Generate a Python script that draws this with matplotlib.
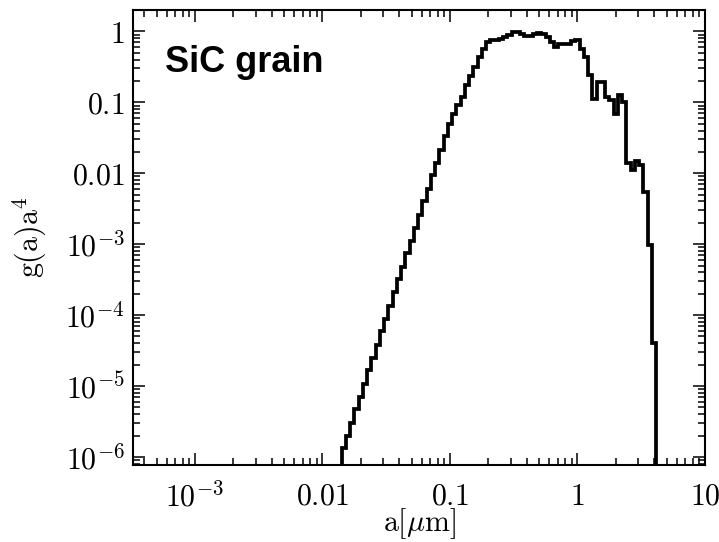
import matplotlib
matplotlib.use("Agg")
import matplotlib.pyplot as plt
from matplotlib.ticker import FixedLocator, FixedFormatter, LogLocator, NullFormatter

plt.rcParams['mathtext.fontset'] = 'cm'

# bin edges of grain radius a [micron] (log-spaced histogram)
edges = [0.014125, 0.015256, 0.016474, 0.017783, 0.019201, 0.020734, 0.022387, 0.024174,
         0.026102, 0.028184, 0.030432, 0.032860, 0.035481, 0.038312, 0.041368, 0.044668,
         0.048232, 0.052079, 0.056234, 0.060720, 0.065563, 0.070795, 0.076443, 0.082540,
         0.089125, 0.096235, 0.10391, 0.11220, 0.12115, 0.13082, 0.14125, 0.15256,
         0.16474, 0.17783, 0.19201, 0.20734, 0.22387, 0.24174, 0.26102, 0.28184,
         0.30432, 0.32860, 0.35481, 0.38312, 0.41368, 0.44668, 0.48232, 0.52079,
         0.56234, 0.60720, 0.65563, 0.70795, 0.76443, 0.82540, 0.89125, 0.96235,
         1.0391, 1.1220, 1.2115, 1.3082, 1.4125, 1.5256, 1.6474, 1.7783,
         1.9201, 2.0734, 2.2387, 2.4174, 2.6102, 2.8184, 3.0432, 3.2860,
         3.5481, 3.8312, 4.1368]

# g(a) a^4 per bin
ga4 = [1.32e-6, 2.0e-6, 3.0e-6, 4.7e-6, 7.1e-6, 1.07e-5, 1.66e-5, 2.5e-5,
       3.8e-5, 5.9e-5, 8.9e-5, 1.35e-4, 2.1e-4, 3.2e-4, 4.8e-4, 7.4e-4,
       1.12e-3, 1.70e-3, 2.6e-3, 4.0e-3, 6.0e-3, 9.3e-3, 0.0141, 0.0214,
       0.033, 0.050, 0.069, 0.091, 0.120, 0.174, 0.234, 0.316,
       0.437, 0.562, 0.708, 0.76, 0.76, 0.78, 0.83, 0.89,
       0.98, 0.98, 0.93, 0.87, 0.85, 0.93, 0.95, 0.93,
       0.83, 0.71, 0.60, 0.66, 0.66, 0.66, 0.72, 0.76,
       0.56, 0.44, 0.24, 0.112, 0.195, 0.195, 0.120, 0.107,
       0.068, 0.126, 0.100, 0.0141, 0.0112, 0.0151, 0.0129, 5.5e-3,
       9.8e-4, 4.1e-5]

xticks = [1e-3, 1e-2, 1e-1, 1, 10]
xticklabels = [r'$10^{-3}$', r'$0.01$', r'$0.1$', r'$1$', r'$10$']
yticks = [1, 1e-1, 1e-2, 1e-3, 1e-4, 1e-5, 1e-6]
yticklabels = [r'$1$', r'$0.1$', r'$0.01$', r'$10^{-3}$', r'$10^{-4}$', r'$10^{-5}$', r'$10^{-6}$']

fig = plt.figure(figsize=(7.19, 5.42), dpi=100)
ax = fig.add_axes([133/719, (542-465)/542, 572/719, 455/542])

ax.stairs(ga4, edges, baseline=1e-9, color='black', linewidth=2.7, fill=False)

ax.set_xscale('log')
ax.set_yscale('log')
ax.set_xlim(3.27e-4, 10)
ax.set_ylim(7.7e-7, 2.0)

ax.xaxis.set_major_locator(FixedLocator(xticks))
ax.xaxis.set_major_formatter(FixedFormatter(xticklabels))
ax.yaxis.set_major_locator(FixedLocator(yticks))
ax.yaxis.set_major_formatter(FixedFormatter(yticklabels))
ax.xaxis.set_minor_locator(LogLocator(base=10, subs=range(2, 10), numticks=50))
ax.yaxis.set_minor_locator(LogLocator(base=10, subs=range(2, 10), numticks=50))
ax.xaxis.set_minor_formatter(NullFormatter())
ax.yaxis.set_minor_formatter(NullFormatter())

ax.tick_params(which='both', direction='in', top=True, right=True, width=1.1, colors='black')
ax.tick_params(which='major', length=8.5, labelsize=21.5)
ax.tick_params(which='minor', length=5)
ax.tick_params(axis='x', which='major', pad=12)
ax.tick_params(axis='y', which='major', pad=6)
for s in ax.spines.values():
    s.set_linewidth(1.5)

fig.text(419/719, 1 - 524/542, r'$\mathrm{a}[\mu\mathrm{m}]$', fontsize=21.5,
         ha='center', va='center')
ax.set_ylabel(r'$\mathrm{g(a)a^4}$', fontsize=21.5, labelpad=12)

ax.text(0.056, 0.864, 'SiC grain', transform=ax.transAxes, fontsize=26,
        fontweight='bold', family='Liberation Sans', ha='left', va='baseline')

fig.savefig('out.png', dpi=100)
